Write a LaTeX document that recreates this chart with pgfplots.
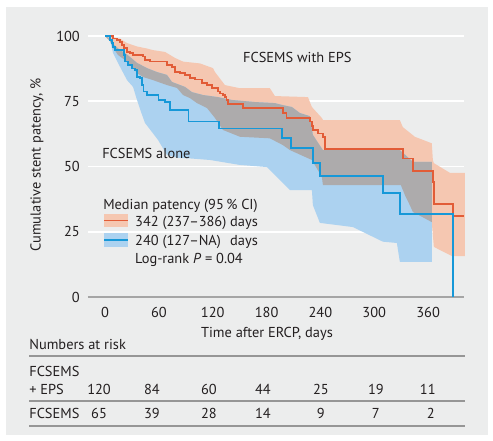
\documentclass[border=0pt]{standalone}
\usepackage{fontspec}
\setmainfont{PT Sans}
\usepackage{pgfplots}
\pgfplotsset{compat=1.18}
\definecolor{panel}{RGB}{236,237,237}
\definecolor{salm}{RGB}{245,199,177}
\definecolor{lblue}{RGB}{172,210,240}
\definecolor{ovl}{RGB}{173,171,172}
\definecolor{redl}{RGB}{226,92,55}
\definecolor{bluel}{RGB}{22,152,216}
\definecolor{txt}{RGB}{35,31,32}
\definecolor{rulec}{RGB}{150,150,150}
\definecolor{axc}{RGB}{165,165,165}
\newcommand\fs{\fontsize{14.4bp}{16bp}\selectfont}
\begin{document}
\begin{tikzpicture}[every node/.append style={text=txt, font=\fs, inner sep=0pt}]
\useasboundingbox (-88bp,-144bp) rectangle (405bp,297bp);
\fill[panel] (-82bp,-138bp) rectangle (400bp,290bp);
\begin{axis}[
 at={(0,0)}, anchor=south west, scale only axis,
 width=376bp, height=268.8bp,
 xmin=-19, xmax=400, ymin=0, ymax=103,
 clip=false,
 axis x line*=bottom, axis y line*=left,
 x axis line style={draw=axc, line width=1.8bp},
 y axis line style={draw=none},
 major tick length=0pt,
 xtick={0,60,...,360}, ytick={0,25,50,75,100},
 ymajorgrids, grid style={white, line width=1.8bp},
 tick label style={font=\fs, text=txt},
 /pgf/number format/assume math mode=true,
 xticklabel style={anchor=base, yshift=-20bp},
 yticklabel style={anchor=east, inner sep=0pt, xshift=-8bp},
 xlabel={Time after ERCP, days},
 ylabel={Cumulative stent patency, \%},
 xlabel style={at={(axis description cs:0.476,-0.1514)}, anchor=base, font=\fs},
 ylabel style={at={(axis description cs:-0.1356,0.491)}, anchor=center, font=\fs},
]
% CI band, FCSEMS with EPS
\addplot[fill=salm, draw=none] coordinates {
(0,100) (16.7,99.0) (24.5,97.3) (35.6,96.0) (46.8,95.2) (53.5,94.6) (66.8,93.9) (78.0,91.6) (86.9,90.2) (105.8,89.5) (120.3,87.7) (122.5,86.2) (133.6,81.2) (150.3,80.0) (183.7,80.0) (189.3,77.0) (226.1,76.6) (230.5,72.8) (241.6,68.6) (242.8,67.8) (328.5,67.8) (331.8,65.1) (345.2,61.4) (364.1,58.9) (365.3,52.5) (366.4,51.3) (384.2,47.6) (400.9,47.6)
(400.9,15.7) (386.4,15.7) (366.4,19.2) (364.1,28.7) (343.0,32.6) (339.6,35.2) (334.1,39.1) (329.6,42.9) (242.8,42.9) (241.6,46.0) (230.5,52.5) (206.0,56.3) (198.2,58.2) (183.7,60.8) (150.3,61.4) (131.4,64.0) (122.5,68.6) (113.6,72.4) (102.4,74.3) (94.7,76.2) (86.9,77.4) (80.2,80.1) (69.0,81.2) (53.5,83.1) (42.3,84.3) (35.6,85.8) (30.1,88.2) (22.3,90.8) (14.5,92.7) (8.9,95.5) (5.6,98.0) (0,100)
} -- cycle;
% CI band, FCSEMS alone
\addplot[fill=lblue, draw=none] coordinates {
(0,100) (3.3,99.5) (8.9,97.0) (16.7,94.6) (22.3,93.5) (27.8,92.0) (35.6,89.7) (46.8,87.7) (57.9,86.2) (69.0,85.1) (74.6,82.4) (89.1,80.5) (96.9,78.5) (109.1,77.4) (125.8,76.6) (141.4,75.5) (167.0,74.7) (189.3,74.3) (197.1,73.6) (208.2,72.8) (217.1,70.5) (228.3,69.3) (231.6,62.1) (242.8,56.3) (328.5,56.3) (343.0,51.8) (364.1,51.8)
(364.1,13.5) (328.5,13.5) (325.2,20.7) (309.6,21.2) (276.2,26.8) (239.4,28.4) (231.6,35.2) (230.5,41.0) (206.0,41.0) (180.4,49.8) (150.3,50.6) (116.9,52.5) (94.7,53.1) (81.3,53.3) (69.0,54.4) (59.0,60.2) (44.5,66.7) (40.1,70.9) (35.6,75.5) (31.2,80.5) (24.5,83.1) (16.7,88.2) (8.9,93.5) (5.6,98.5) (0,100)
} -- cycle;
% overlap of the two bands
\addplot[fill=ovl, draw=none] coordinates {
(0,100) (3.3,99.5) (8.9,97.0) (16.7,94.6) (22.3,93.5) (27.8,92.0) (35.6,89.7) (46.8,87.7) (57.9,86.2) (69.0,85.1) (74.6,82.4) (89.1,80.5) (96.9,78.5) (109.1,77.4) (125.8,76.6) (141.4,75.5) (167.0,74.7) (189.3,74.3) (197.1,73.6) (208.2,72.8) (217.1,70.5) (228.3,69.3) (231.6,62.1) (242.8,56.3) (328.5,56.3) (343.0,51.8) (364.1,51.8)
(364.1,28.7) (343.0,32.6) (339.6,35.2) (334.1,39.1) (329.6,42.9) (242.8,42.9) (241.6,46.0) (230.5,52.5) (206.0,56.3) (198.2,58.2) (183.7,60.8) (150.3,61.4) (131.4,64.0) (122.5,68.6) (113.6,72.4) (102.4,74.3) (94.7,76.2) (86.9,77.4) (80.2,80.1) (69.0,81.2) (53.5,83.1) (42.3,84.3) (35.6,85.8) (30.1,88.2) (22.3,90.8) (14.5,92.7) (8.9,95.5) (5.6,98.0) (0,100)
} -- cycle;
% Kaplan-Meier curves
\addplot[const plot, redl, line width=1.7bp] coordinates {
(0,100) (9.2,99.1) (13.0,98.5) (16.7,97.8) (18.6,96.6) (21.2,95.4) (24.2,94.0) (27.8,93.4) (31.5,92.7) (42.6,92.1) (44.5,90.8) (50.1,90.2) (68.7,88.9) (74.3,88.2) (78.0,86.3) (83.5,85.7) (89.1,85.1) (94.7,83.8) (100.2,83.3) (107.7,81.9) (113.3,81.2) (118.8,80.0) (126.2,78.7) (128.1,78.0) (131.4,77.4) (133.6,76.7) (135.5,75.5) (137.3,73.9) (154.0,72.3) (198.0,70.4) (202.3,68.5) (228.3,67.2) (230.5,65.5) (232.0,64.0) (237.5,62.7) (242.8,61.3) (245.0,56.6) (332.2,53.1) (343.0,48.4) (365.6,44.2) (366.7,35.6) (387.9,31.1) (400,31.1)
};
\addplot[const plot, bluel, line width=1.7bp] coordinates {
(0,100) (5.6,98.5) (7.5,97.2) (9.2,95.9) (11.1,94.6) (21.0,92.7) (22.3,90.2) (25.9,88.9) (29.7,87.6) (33.4,87.0) (35.3,84.4) (39.0,83.8) (40.9,81.2) (42.7,78.7) (46.4,77.4) (59.4,75.5) (66.8,74.8) (72.4,71.6) (93.0,67.2) (127.0,64.6) (196.8,60.8) (207.0,57.0) (231.6,51.3) (239.4,46.4) (309.6,39.8) (328.5,31.8) (387.5,0)
};
% annotations
\node[anchor=base west] at (axis cs:153.7,89.7) {FCSEMS with EPS};
\node[anchor=base west] at (axis cs:-3.3,52.9) {FCSEMS alone};
\node[anchor=base west] at (axis cs:-2.2,33.7) {Median patency (95\,\% CI)};
\fill[salm] (axis cs:-1.1,26.8) rectangle (axis cs:25.6,31.8);
\draw[redl, line width=1.7bp] (axis cs:-1.1,29.3) -- (axis cs:25.6,29.3);
\fill[lblue] (axis cs:-1.1,19.2) rectangle (axis cs:25.6,24.5);
\draw[bluel, line width=1.7bp] (axis cs:-1.1,21.8) -- (axis cs:25.6,21.8);
\node[anchor=base west] at (axis cs:33.4,27.2) {342 (237--386) days};
\node[anchor=base west] at (axis cs:33.4,19.9) {\rlap{240 (127--NA)}\phantom{342 (237--386) }days};
\node[anchor=base west] at (axis cs:33.4,13.0) {Log-rank \textit{P} = 0.04};
% numbers at risk
\node[anchor=base west] at (axis cs:-84.6,-20.3) {Numbers at risk};
\draw[rulec, line width=1.8bp] (axis cs:-84.6,-22.6) -- (axis cs:400.9,-22.6);
\node[anchor=base west] at (axis cs:-84.6,-30.3) {FCSEMS};
\node[anchor=base west] at (axis cs:-84.6,-37.2) {+ EPS};
\node[anchor=base] at (axis cs:-6.7,-37.2) {120};
\node[anchor=base] at (axis cs:52.3,-37.2) {84};
\node[anchor=base] at (axis cs:115.8,-37.2) {60};
\node[anchor=base] at (axis cs:176,-37.2) {44};
\node[anchor=base] at (axis cs:240.5,-37.2) {25};
\node[anchor=base] at (axis cs:301.8,-37.2) {19};
\node[anchor=base] at (axis cs:359.7,-37.2) {11};
\draw[rulec, line width=1.8bp] (axis cs:-84.6,-39.7) -- (axis cs:400.9,-39.7);
\node[anchor=base west] at (axis cs:-84.6,-46.4) {FCSEMS};
\node[anchor=base] at (axis cs:-6.7,-46.4) {65};
\node[anchor=base] at (axis cs:52.3,-46.4) {39};
\node[anchor=base] at (axis cs:115.8,-46.4) {28};
\node[anchor=base] at (axis cs:176,-46.4) {14};
\node[anchor=base] at (axis cs:240.5,-46.4) {9};
\node[anchor=base] at (axis cs:301.8,-46.4) {7};
\node[anchor=base] at (axis cs:363,-46.4) {2};
\draw[rulec, line width=1.8bp] (axis cs:-84.6,-49.3) -- (axis cs:400.9,-49.3);
\end{axis}
\end{tikzpicture}
\end{document}
